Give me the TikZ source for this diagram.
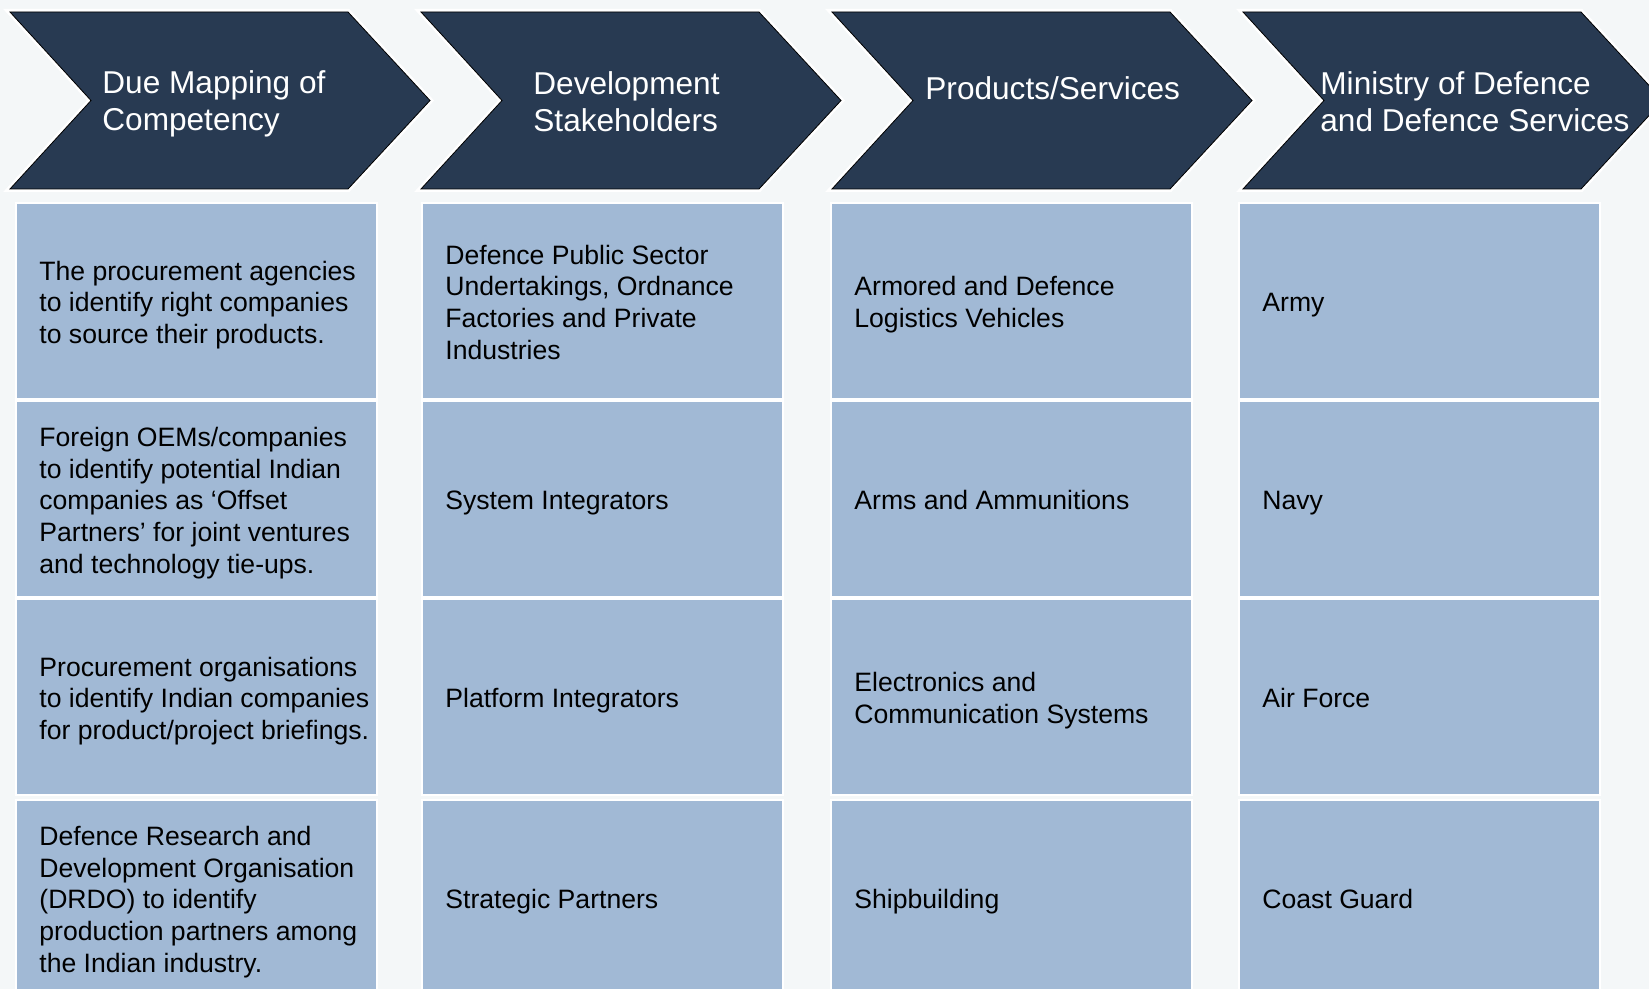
\documentclass[tikz,border=0pt]{standalone}
\usepackage{fontspec}
\setmainfont{Liberation Sans}
\usepackage{xcolor}
\usetikzlibrary{positioning}

\definecolor{navy}{HTML}{283A52}
\definecolor{cellblue}{HTML}{A1B9D5}
\definecolor{pagebg}{HTML}{F4F7F8}

\begin{document}
\begin{tikzpicture}[
    x=0.5pt, y=-0.5pt,
    node distance=1pt and 23.3pt,
    chevron/.style={fill=navy, preaction={draw=white, line width=3pt, line join=miter}},
    cell/.style={rectangle, fill=cellblue, draw=white, line width=1pt, minimum width=180.5pt, minimum height=98pt, inner sep=0pt, outer sep=0pt},
    celltext/.style={anchor=west, align=left, inner sep=0pt, text depth=2.8pt, yshift=-2pt, font=\fontsize{13.3pt}{15.9pt}\selectfont},
    headtext/.style={anchor=west, align=left, inner sep=0pt, text=white, font=\fontsize{15.8pt}{18.5pt}\selectfont}
]

\fill[pagebg] (0,0) rectangle (1649,989);
\useasboundingbox (0,0) rectangle (1649,989);

% header chevrons
\draw[chevron] (10,12) -- ++(338,0) -- ++(82,88.5) -- ++(-82,88.5) -- ++(-338,0) -- ++(81,-88.5) -- cycle;
\draw[chevron] (421,12) -- ++(338,0) -- ++(82,88.5) -- ++(-82,88.5) -- ++(-338,0) -- ++(81,-88.5) -- cycle;
\draw[chevron] (832,12) -- ++(338,0) -- ++(82,88.5) -- ++(-82,88.5) -- ++(-338,0) -- ++(81,-88.5) -- cycle;
\draw[chevron] (1243,12) -- ++(338,0) -- ++(82,88.5) -- ++(-82,88.5) -- ++(-338,0) -- ++(81,-88.5) -- cycle;

\node[headtext] (comphead) at (102,104) {Due Mapping of\\Competency};
\node[headtext] (stakehead) at (533,102) {Development\\Stakeholders};
\node[headtext] (prodhead) at (925,88) {Products/Services};
\node[headtext] (servhead) at (1320,102) {Ministry of Defence\\and Defence Services};

% cells
\node[cell] (comp1) at (196.5,301) {};
\node[cell, below=of comp1] (comp2) {};
\node[cell, below=of comp2] (comp3) {};
\node[cell, below=2.5pt of comp3] (comp4) {};

\node[cell, right=22.5pt of comp1] (stake1) {};
\node[cell, below=of stake1] (stake2) {};
\node[cell, below=of stake2] (stake3) {};
\node[cell, below=2.5pt of stake3] (stake4) {};

\node[cell, right=24pt of stake1] (prod1) {};
\node[cell, below=of prod1] (prod2) {};
\node[cell, below=of prod2] (prod3) {};
\node[cell, below=2.5pt of prod3] (prod4) {};

\node[cell, right=23.5pt of prod1] (serv1) {};
\node[cell, below=of serv1] (serv2) {};
\node[cell, below=of serv2] (serv3) {};
\node[cell, below=2.5pt of serv3] (serv4) {};

% cell texts
\node[celltext] (comp1t) at ([xshift=11.5pt]comp1.west) {The procurement agencies\\to identify right companies\\to source their products.};
\node[celltext] (comp2t) at ([xshift=11.5pt]comp2.west) {Foreign OEMs/companies\\to identify potential Indian\\companies as ‘Offset\\Partners’ for joint ventures\\and technology tie-ups.};
\node[celltext] (comp3t) at ([xshift=11.5pt]comp3.west) {Procurement organisations\\to identify Indian companies\\for product/project briefings.};
\node[celltext] (comp4t) at ([xshift=11.5pt]comp4.west) {Defence Research and\\Development Organisation\\(DRDO) to identify\\production partners among\\the Indian industry.};

\node[celltext] (stake1t) at ([xshift=11.5pt]stake1.west) {Defence Public Sector\\Undertakings, Ordnance\\Factories and Private\\Industries};
\node[celltext] (stake2t) at ([xshift=11.5pt]stake2.west) {System Integrators};
\node[celltext] (stake3t) at ([xshift=11.5pt]stake3.west) {Platform Integrators};
\node[celltext] (stake4t) at ([xshift=11.5pt]stake4.west) {Strategic Partners};

\node[celltext] (prod1t) at ([xshift=11.5pt]prod1.west) {Armored and Defence\\Logistics Vehicles};
\node[celltext] (prod2t) at ([xshift=11.5pt]prod2.west) {Arms and Ammunitions};
\node[celltext] (prod3t) at ([xshift=11.5pt]prod3.west) {Electronics and\\Communication Systems};
\node[celltext] (prod4t) at ([xshift=11.5pt]prod4.west) {Shipbuilding};

\node[celltext] (serv1t) at ([xshift=11.5pt]serv1.west) {Army};
\node[celltext] (serv2t) at ([xshift=11.5pt]serv2.west) {Navy};
\node[celltext] (serv3t) at ([xshift=11.5pt]serv3.west) {Air Force};
\node[celltext] (serv4t) at ([xshift=11.5pt]serv4.west) {Coast Guard};

\end{tikzpicture}
\end{document}
